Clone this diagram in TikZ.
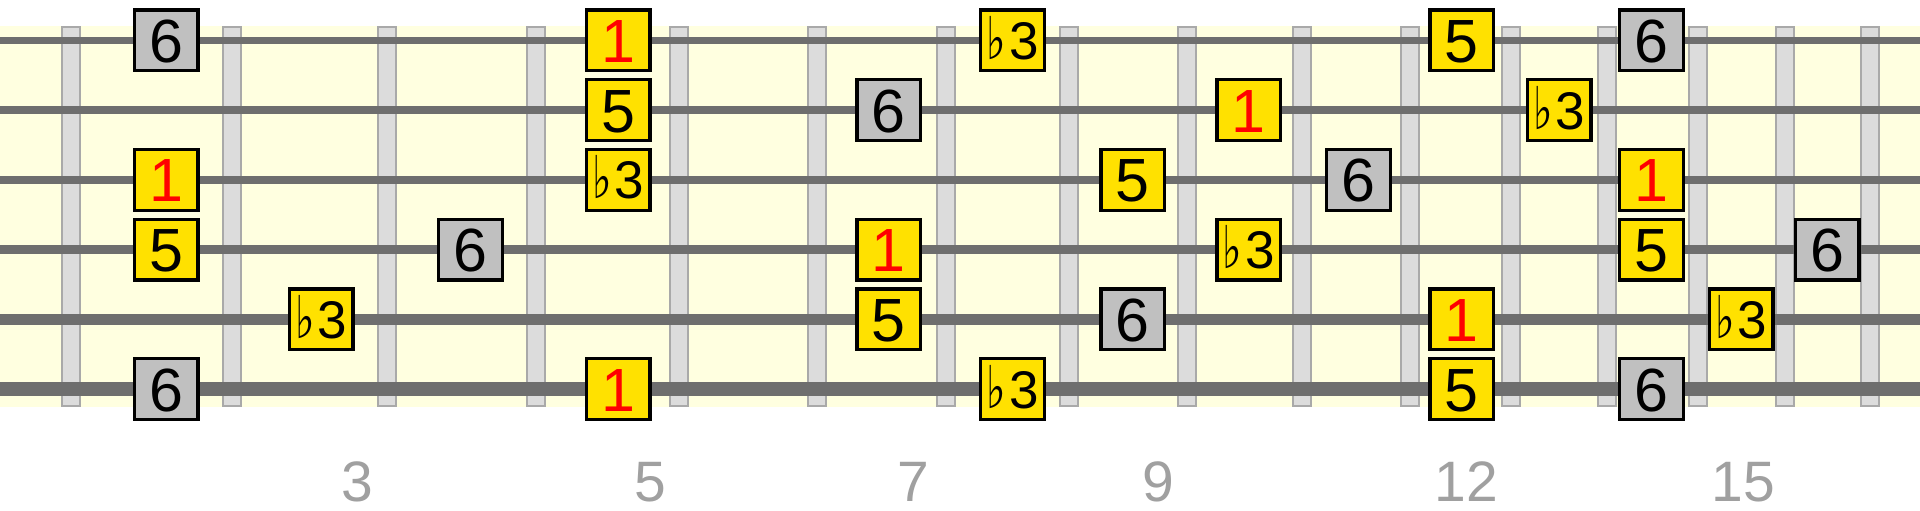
\documentclass[tikz, border = 0pt]{standalone}
\usepackage{fontspec}
\usepackage{graphicx}
\setmainfont{Liberation Sans}
\newfontfamily\flatfont{DejaVu Sans}
\usepackage{tikz}
\usetikzlibrary {
  positioning,
  backgrounds,
}
\definecolor{noteyellow}{HTML}{FFE100}
\definecolor{notegray}{HTML}{C0C0C0}
\definecolor{fretfill}{HTML}{DCDCDC}
\definecolor{fretline}{HTML}{A9A9A9}
\definecolor{stringgray}{HTML}{6E6E6E}
\definecolor{boardbg}{HTML}{FFFFE0}
\definecolor{labelgray}{HTML}{A0A0A0}
\tikzset{
  deg/.style = {
    rectangle,
    draw = black,
    fill = #1,
    line width = 3.3pt,
    minimum width = 63.7pt,
    minimum height = 60.7pt,
    inner sep = 0pt,
    font = \fontsize{61}{61}\selectfont,
    text height = 44pt,
    text depth = 0pt
  },
  root/.style = {
    deg = noteyellow,
    text = red
  },
  third/.style = {
    deg = noteyellow,
    font = \fontsize{53}{53}\selectfont,
    text height = 38pt
  },
  fifth/.style = {
    deg = noteyellow
  },
  sixth/.style = {
    deg = notegray
  },
  fretbar/.style = {
    draw = fretline,
    fill = fretfill,
    line width = 2pt
  },
  gstring/.style = {
    draw = stringgray,
    line width = #1
  },
  num/.style = {
    text = labelgray,
    font = \fontsize{57}{57}\selectfont,
    anchor = base
  }
}
\newcommand{\flatsym}{\scalebox{0.7}[1]{\fontsize{59}{59}\flatfont ♭}\hspace{3pt}}

\begin{document}
\begin{tikzpicture}[x = 1pt, y = -1pt]
  \useasboundingbox (0, 0) rectangle (1920, 511);

  % Mastil.
  \fill[boardbg] (0, 26) rectangle (1920, 407);
  \foreach \x in {71, 232, 387, 536, 679, 816.7, 946, 1068.6, 1187.3,
    1302.2, 1409.5, 1510.5, 1606.6, 1697.6, 1785.3, 1870.2}
    \draw[fretbar] (\x - 9, 27) rectangle (\x + 9, 406);
  \foreach \s/\y/\w in {1/40.5/6.3, 2/110.2/7.5, 3/179.9/8.3,
    4/249.6/9.5, 5/319.3/11.5, 6/389/13.3} {
    \coordinate (s\s) at (0, \y);
    \draw[gstring = \w pt] (0, \y) -- (1920, \y);
  }
  \foreach \f/\x in {2/166, 3/321, 4/470.6, 5/618, 7/888.7, 8/1012.5,
    9/1132.7, 10/1248.7, 11/1358.4, 12/1461.8, 13/1559, 14/1651.4,
    15/1741.2, 16/1827}
    \coordinate (f\f) at (\x, 0);

  % Cuerda 1.
  \node[sixth] (a2) at (f2 |- s1) {6};
  \node[root] (a5) at (f5 |- s1) {1};
  \node[third] (a8) at (f8 |- s1) {\flatsym3};
  \node[fifth] (a12) at (f12 |- s1) {5};
  \node[sixth] (a14) at (f14 |- s1) {6};

  % Cuerda 2.
  \node[fifth] (b5) at (f5 |- s2) {5};
  \node[sixth] (b7) at (f7 |- s2) {6};
  \node[root] (b10) at (f10 |- s2) {1};
  \node[third] (b13) at (f13 |- s2) {\flatsym3};

  % Cuerda 3.
  \node[root] (c2) at (f2 |- s3) {1};
  \node[third] (c5) at (f5 |- s3) {\flatsym3};
  \node[fifth] (c9) at (f9 |- s3) {5};
  \node[sixth] (c11) at (f11 |- s3) {6};
  \node[root] (c14) at (f14 |- s3) {1};

  % Cuerda 4.
  \node[fifth] (d2) at (f2 |- s4) {5};
  \node[sixth] (d4) at (f4 |- s4) {6};
  \node[root] (d7) at (f7 |- s4) {1};
  \node[third] (d10) at (f10 |- s4) {\flatsym3};
  \node[fifth] (d14) at (f14 |- s4) {5};
  \node[sixth] (d16) at (f16 |- s4) {6};

  % Cuerda 5.
  \node[third] (e3) at (f3 |- s5) {\flatsym3};
  \node[fifth] (e7) at (f7 |- s5) {5};
  \node[sixth] (e9) at (f9 |- s5) {6};
  \node[root] (e12) at (f12 |- s5) {1};
  \node[third] (e15) at (f15 |- s5) {\flatsym3};

  % Cuerda 6.
  \node[sixth] (g2) at (f2 |- s6) {6};
  \node[root] (g5) at (f5 |- s6) {1};
  \node[third] (g8) at (f8 |- s6) {\flatsym3};
  \node[fifth] (g12) at (f12 |- s6) {5};
  \node[sixth] (g14) at (f14 |- s6) {6};

  % Trastes.
  \node[num] (n3) at (357, 501.7) {3};
  \node[num] (n5) at (650, 501.7) {5};
  \node[num] (n7) at (913, 501.7) {7};
  \node[num] (n9) at (1158, 501.7) {9};
  \node[num] (n12) at (1466, 501.7) {12};
  \node[num] (n15) at (1743.5, 501.7) {15};
\end{tikzpicture}
\end{document}
